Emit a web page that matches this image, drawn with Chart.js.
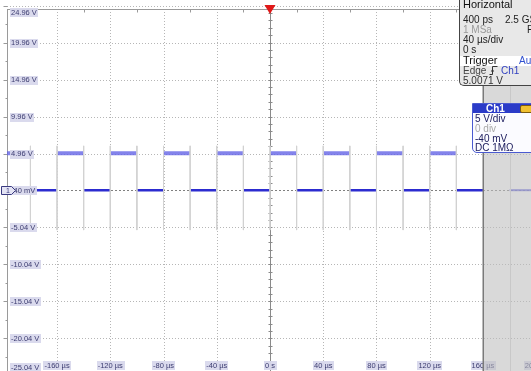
<!DOCTYPE html>
<html>
<head>
<meta charset="utf-8">
<script src="https://cdn.jsdelivr.net/npm/chart.js@4/dist/chart.umd.min.js"></script>
<style>
  html, body { margin: 0; padding: 0; background: #fff; overflow: hidden; }
  #wrap { position: relative; width: 531px; height: 371px; overflow: hidden; }
  #scope { position: absolute; left: 0; top: 0; }
  .pnl { position: absolute; font-family: 'Liberation Sans', Arial, sans-serif; font-size: 10px; line-height: 10px; white-space: nowrap; }
  .pnl span, .pnl div { position: absolute; white-space: nowrap; }
  #hpanel { left: 459px; top: 0; width: 90px; height: 85px; background: #e8e8e8;
            border-left: 1px solid #444; border-bottom: 1px solid #444; border-bottom-left-radius: 5px; color: #222; }
  #hpanel .trig { left: 0; top: 56px; width: 90px; height: 10px; background: #fff; }
  #chpanel { left: 472px; top: 103px; width: 80px; height: 48px; background: #fbfbff;
             border: 1px solid #4a5ad0; border-bottom-left-radius: 5px; color: #202060; }
  #chpanel .hdr { left: 0; top: 0; width: 80px; height: 9px; background: #2b3bc8; }
</style>
</head>
<body>
<div id="wrap">
  <canvas id="scope" width="531" height="371"></canvas>

  <div id="hpanel" class="pnl">
    <span style="left:3px;top:-1px;font-size:11px;line-height:11px;color:#111">Horizontal</span>
    <span style="left:3px;top:15px">400 ps</span>
    <span style="left:45px;top:15px">2.5 GS</span>
    <span style="left:3px;top:25px;color:#9a9a9a">1 MSa</span>
    <span style="left:67px;top:25px">F</span>
    <span style="left:3px;top:35px">40 µs/div</span>
    <span style="left:3px;top:45px">0 s</span>
    <div class="trig"></div>
    <span style="left:3px;top:55px;font-size:11px;line-height:11px;color:#111">Trigger</span>
    <span style="left:59px;top:56px;color:#3050d0">Au</span>
    <span style="left:3px;top:66px;color:#444">Edge <svg width="9" height="9" viewBox="0 0 9 9" style="vertical-align:-1px"><path d="M0.5 8.5 H3.5 V0.5 H8.5" fill="none" stroke="#333" stroke-width="1"/><path d="M1.8 5.5 L3.5 3 L5.2 5.5 Z" fill="#333"/></svg> <span style="position:static;color:#3040c0">Ch1</span></span>
    <span style="left:3px;top:76px;color:#333">5.0071 V</span>
  </div>

  <div id="chpanel" class="pnl">
    <div class="hdr"></div>
    <span style="left:13px;top:0px;color:#fff;font-weight:bold;font-size:10px;line-height:10px">Ch1</span>
    <div style="left:47px;top:1px;width:11px;height:6px;background:#f0c030;border:1px solid #7a5a10;border-radius:2px"></div>
    <span style="left:2px;top:10px">5 V/div</span>
    <span style="left:2px;top:20px;color:#a8a8a8">0 div</span>
    <span style="left:2px;top:30px">-40 mV</span>
    <span style="left:2px;top:39px">DC 1MΩ</span>
  </div>
</div>

<script>
// Time axis (µs) and voltage axis (V) graticule values and their labels
const timeTicks  = [-160, -120, -80, -40, 0, 40, 80, 120, 160, 200];
const timeLabels = ['-160 µs', '-120 µs', '-80 µs', '-40 µs', '0 s', '40 µs', '80 µs', '120 µs', '160 µs', '200 µs'];
const voltTicks  = [24.96, 19.96, 14.96, 9.96, 4.96, -0.04, -5.04, -10.04, -15.04, -20.04, -25.04];
const voltLabels = ['24.96 V', '19.96 V', '14.96 V', '9.96 V', '4.96 V', '-40 mV', '-5.04 V', '-10.04 V', '-15.04 V', '-20.04 V', '-25.04 V'];

// Screen window
const timeMin = -197.6, timeMax = 196.1;
const voltMin = -24.46, voltMax = 24.51;
const centerVolt = -0.04;
const recordEnd = 160;       // end of acquired record (µs)

// Channel 1 square wave: high and low plateaus (µs) and levels (V)
const highStart = [-200, -160, -120, -80, -40, 0, 40, 80, 120];
const highEnd   = [-180, -140, -100, -60, -20, 20, 60, 100, 140];
const lowStart  = [-180, -140, -100, -60, -20, 20, 60, 100, 140];
const lowEnd    = [-160, -120, -80, -40, 0, 40, 80, 120, 160];
const highLevel = 5.0;
const lowLevel  = 0.0;
// Transition edges (µs) and the span of their faint traces (V)
const edgeTimes = [-180, -160, -140, -120, -100, -80, -60, -40, -20, 0, 20, 40, 60, 80, 100, 120, 140];
const edgeTop = 6.0;
const edgeBottom = -5.4;
// Faint trace beyond the record
const tailStart = 180, tailEnd = 200;

function segments(starts, ends, level) {
  const pts = [];
  starts.forEach((s, i) => {
    pts.push({ x: s, y: level }, { x: ends[i], y: level }, { x: ends[i], y: null });
  });
  return pts;
}
function edges(times) {
  const pts = [];
  times.forEach(t => pts.push({ x: t, y: edgeTop }, { x: t, y: edgeBottom }, { x: t, y: null }));
  return pts;
}

function drawLabel(ctx, text, cx, cy, align) {
  ctx.font = '7.5px "Liberation Sans", Arial, sans-serif';
  const w = ctx.measureText(text).width;
  const left = align === 'left' ? cx : cx - w / 2;
  ctx.fillStyle = 'rgba(216,216,236,0.95)';
  ctx.fillRect(Math.round(left) - 1, Math.round(cy) - 4, Math.ceil(w) + 2, 9);
  ctx.fillStyle = '#3c3c70';
  ctx.textBaseline = 'middle';
  ctx.textAlign = 'left';
  ctx.fillText(text, left, cy + 0.5);
}

const scopeDecor = {
  id: 'scopeDecor',
  beforeDatasetsDraw(chart) {
    const { ctx, chartArea: a, scales: { x, y } } = chart;
    const line = (x1, y1, x2, y2) => { ctx.beginPath(); ctx.moveTo(x1, y1); ctx.lineTo(x2, y2); ctx.stroke(); };
    ctx.save();
    ctx.lineWidth = 1;
    // dotted graticule
    ctx.strokeStyle = '#b6b6b6';
    ctx.setLineDash([1, 2]);
    timeTicks.forEach(t => {
      if (t === 0) return;
      const px = Math.round(x.getPixelForValue(t)) + 0.5;
      line(px, a.top, px, a.bottom);
    });
    voltTicks.forEach(v => {
      if (v === centerVolt) return;
      const py = Math.round(y.getPixelForValue(v)) + 0.5;
      line(a.left, py, a.right, py);
    });
    // centre horizontal (ground) line
    ctx.strokeStyle = '#808080';
    ctx.setLineDash([2, 2]);
    const cy = Math.round(y.getPixelForValue(centerVolt)) + 0.5;
    line(a.left, cy, a.right, cy);
    ctx.setLineDash([]);
    // centre vertical axis with fine ticks
    ctx.strokeStyle = '#8a8a8a';
    const cx = Math.round(x.getPixelForValue(0)) + 0.5;
    line(cx, a.top, cx, a.bottom);
    for (let v = voltTicks[voltTicks.length - 1]; v <= voltTicks[0] + 0.001; v += 1) {
      const py = Math.round(y.getPixelForValue(v)) + 0.5;
      line(cx - 2, py, cx + 2, py);
    }
    // outer left and top borders
    ctx.strokeStyle = '#9a9a9a';
    const lx = a.left + 0.5, ty = a.top + 0.5;
    line(lx, a.top, lx, a.bottom);
    line(a.left, ty, a.right, ty);
    voltTicks.forEach((v, i) => {
      const py = Math.round(y.getPixelForValue(v)) + 0.5;
      line(lx - 4, py, lx, py);
      if (i < voltTicks.length - 1) {
        const ph = Math.round(y.getPixelForValue(v - 2.5)) + 0.5;
        line(lx - 2, ph, lx, ph);
      }
    });
    timeTicks.forEach(t => {
      const ph = Math.round(x.getPixelForValue(t - 20)) + 0.5;
      line(ph, ty, ph, ty + 3);
    });
    ctx.restore();
  },
  afterDatasetsDraw(chart) {
    const { ctx, chartArea: a, scales: { x, y } } = chart;
    ctx.save();
    // voltage labels along the left edge
    voltTicks.forEach((v, i) => {
      let py = y.getPixelForValue(v);
      py = Math.min(Math.max(py, a.top + 3), a.bottom - 4);
      drawLabel(ctx, voltLabels[i], a.left + 4, py, 'left');
    });
    // time labels along the bottom edge
    timeTicks.forEach((t, i) => {
      drawLabel(ctx, timeLabels[i], x.getPixelForValue(t), a.bottom - 6, 'center');
    });
    // channel 1 ground marker
    const gy = Math.round(y.getPixelForValue(centerVolt)) + 0.5;
    ctx.fillStyle = '#e4e4f4';
    ctx.strokeStyle = '#3a3a80';
    ctx.lineWidth = 1;
    ctx.beginPath();
    ctx.moveTo(1.5, gy - 4); ctx.lineTo(11.5, gy - 4); ctx.lineTo(15.5, gy); ctx.lineTo(11.5, gy + 4); ctx.lineTo(1.5, gy + 4);
    ctx.closePath(); ctx.fill(); ctx.stroke();
    ctx.fillStyle = '#3a3a80';
    ctx.font = '7px "Liberation Sans", Arial, sans-serif';
    ctx.textAlign = 'center'; ctx.textBaseline = 'middle';
    ctx.fillText('1', 8, gy + 0.5);
    // region beyond the acquired record
    const rx = Math.round(x.getPixelForValue(recordEnd));
    ctx.fillStyle = 'rgba(190,190,190,0.58)';
    ctx.fillRect(rx, 0, chart.width - rx, chart.height);
    ctx.strokeStyle = '#c8c8c8';
    const tx = Math.round(x.getPixelForValue(tailStart)) + 0.5;
    ctx.beginPath(); ctx.moveTo(tx, 0); ctx.lineTo(tx, chart.height); ctx.stroke();
    ctx.strokeStyle = '#7a7a7a';
    ctx.lineWidth = 1.5;
    ctx.beginPath(); ctx.moveTo(rx + 0.25, 0); ctx.lineTo(rx + 0.25, chart.height); ctx.stroke();
    // trigger position marker
    const px = x.getPixelForValue(0);
    ctx.fillStyle = '#e01818';
    ctx.beginPath();
    ctx.moveTo(px - 5.5, 5); ctx.lineTo(px + 5.5, 5); ctx.lineTo(px, 14); ctx.closePath(); ctx.fill();
    ctx.restore();
  }
};

new Chart(document.getElementById('scope'), {
  type: 'line',
  data: {
    datasets: [
      { data: edges(edgeTimes), borderColor: '#d2d2d2', borderWidth: 1, pointRadius: 0, spanGaps: false },
      { data: segments(highStart, highEnd, highLevel), borderColor: 'rgba(100,100,230,0.8)', borderWidth: 4, pointRadius: 0, spanGaps: false, borderCapStyle: 'butt' },
      { data: segments(lowStart, lowEnd, lowLevel), borderColor: '#2c2cd0', borderWidth: 2.5, pointRadius: 0, spanGaps: false, borderCapStyle: 'butt' },
      { data: segments([tailStart], [tailEnd], lowLevel), borderColor: 'rgba(80,80,220,0.8)', borderWidth: 2, pointRadius: 0, spanGaps: false }
    ]
  },
  options: {
    responsive: false,
    devicePixelRatio: 1,
    animation: false,
    events: [],
    layout: { padding: { left: 7, top: 9, right: 0, bottom: 0 } },
    plugins: { legend: { display: false }, tooltip: { enabled: false } },
    scales: {
      x: { type: 'linear', min: timeMin, max: timeMax, display: false },
      y: { type: 'linear', min: voltMin, max: voltMax, display: false }
    }
  },
  plugins: [scopeDecor]
});
</script>
</body>
</html>
